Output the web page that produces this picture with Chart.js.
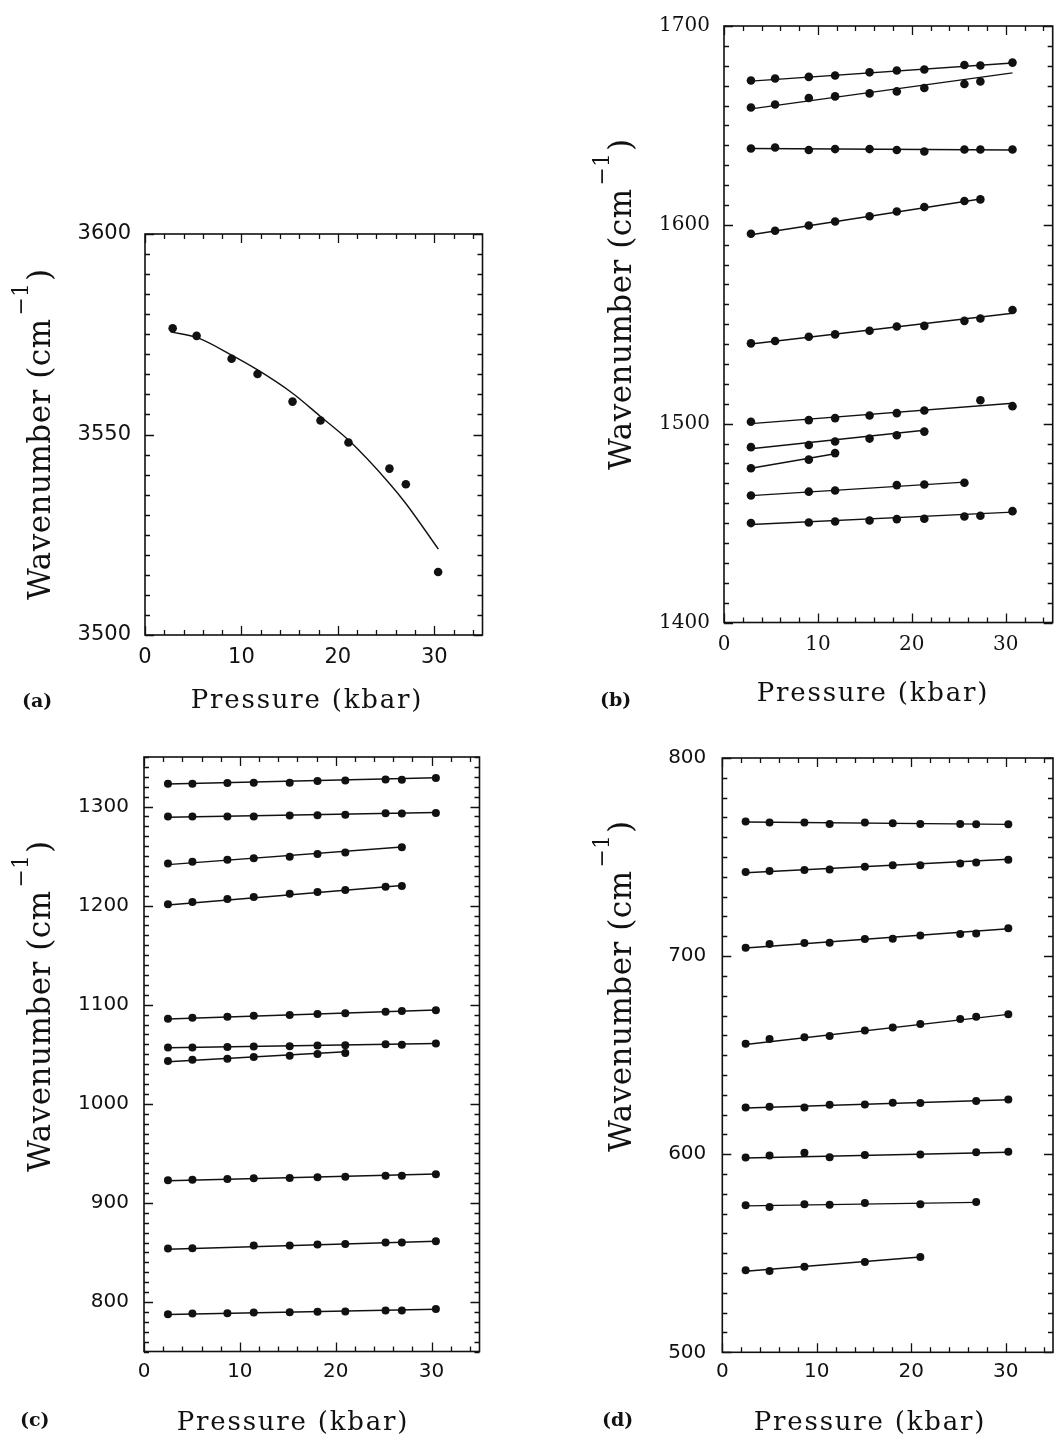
<!DOCTYPE html>
<html><head><meta charset="utf-8">
<script src="https://cdn.jsdelivr.net/npm/chart.js@4.4.0/dist/chart.umd.min.js"></script>
<style>
html,body{margin:0;padding:0;background:#fff;}
body{width:1057px;height:1436px;position:relative;overflow:hidden;}
canvas{position:absolute;}
</style></head><body>
<canvas id="ca" width="528" height="545" style="left:0;top:180px"></canvas>
<canvas id="cb" width="527" height="725" style="left:530px;top:0"></canvas>
<canvas id="cc" width="528" height="706" style="left:0;top:730px"></canvas>
<canvas id="cd" width="527" height="706" style="left:530px;top:730px"></canvas>
<script>
// ---------- tick labels ----------
const pressureTicks = [0, 10, 20, 30];
const yTicksA = [3500, 3550, 3600];
const yTicksB = [1400, 1500, 1600, 1700];
const yTicksC = [800, 900, 1000, 1100, 1200, 1300];
const yTicksD = [500, 600, 700, 800];

// ---------- Panel (a): O-H stretch ----------
const pressureA = [2.87, 5.35, 8.98, 11.67, 15.3, 18.2, 21.1, 25.35, 27.05, 30.4];
const wavenumberA = [3576.5, 3574.6, 3568.9, 3565.1, 3558.2, 3553.5, 3548.0, 3541.5, 3537.6, 3515.7];
const fitCurvePressureA = [2.66, 5.35, 8.98, 11.68, 15.3, 18.2, 21.11, 25.35, 27.05, 30.43];
const fitCurveWavenumberA = [3575.6, 3574.2, 3569.8, 3566.1, 3560.3, 3554.5, 3548.6, 3537.8, 3532.8, 3521.4];

// ---------- Panel (b): 1400-1700 cm-1 ----------
const pressureB = [2.87, 5.44, 9.03, 11.83, 15.5, 18.4, 21.33, 25.6, 27.3, 30.72];
const b1 = [1672.6, 1673.6, 1674.4, 1675.1, 1676.7, 1677.6, 1678.1, 1680.4, 1680.1, 1681.6];
const b2 = [1659.0, 1660.5, 1663.8, 1664.6, 1666.1, 1667.1, 1668.8, 1670.8, 1672.1, null];
const b3 = [1638.4, 1638.9, 1637.6, 1638.1, 1638.1, 1637.6, 1636.9, 1637.9, 1637.9, 1637.9];
const b4 = [1595.5, 1597.0, 1599.7, 1601.7, 1604.3, 1606.7, 1609.0, 1612.0, 1612.8, null];
const b5 = [1540.4, 1541.6, 1543.7, 1544.9, 1546.7, 1548.9, 1549.2, 1551.7, 1552.9, 1557.2];
const b6 = [1501.0, null, 1501.8, 1502.8, 1504.1, 1505.3, 1506.6, null, 1511.8, 1508.8];
const b7 = [1488.2, null, 1489.3, 1491.0, 1492.5, 1494.2, 1496.0, null, null, null];
const b8 = [1477.6, null, 1481.9, 1485.2, null, null, null, null, null, null];
const b9 = [1463.9, null, 1465.8, 1466.4, null, 1469.1, 1469.4, 1470.3, null, null];
const b10 = [1450.0, null, 1450.3, 1450.8, 1451.3, 1452.0, 1452.2, 1453.3, 1453.7, 1456.0];
// fitted lines: [pressure start, wavenumber start, pressure end, wavenumber end]
const fitLinesB = [
  [2.87, 1672.3, 30.72, 1681.4], [2.87, 1658.3, 30.72, 1676.4], [2.87, 1638.4, 30.72, 1637.6],
  [2.87, 1595.0, 27.3, 1613.0], [2.87, 1540.1, 30.72, 1555.5], [2.87, 1500.0, 30.72, 1510.3],
  [2.87, 1487.4, 21.33, 1496.7], [2.87, 1477.6, 11.83, 1484.9], [2.87, 1463.8, 25.6, 1470.6],
  [2.87, 1449.3, 30.72, 1455.5]
];

// ---------- Panel (c): 750-1350 cm-1 ----------
const pressureC = [2.5, 5.05, 8.7, 11.45, 15.2, 18.1, 21.0, 25.2, 26.9, 30.45];
const c1 = [1323.1, 1323.1, 1323.7, 1324.1, 1324.1, 1325.7, 1326.4, 1327.4, 1327.1, 1328.7];
const c2 = [1290.0, 1290.0, 1290.0, 1290.0, 1291.0, 1291.3, 1291.6, 1293.3, 1293.0, 1293.6];
const c3 = [1242.4, 1244.4, 1246.4, 1247.8, 1249.4, 1252.1, 1253.5, null, 1258.9, null];
const c4 = [1201.3, 1203.7, 1206.7, 1208.7, 1212.0, 1213.7, 1215.7, 1219.0, 1219.7, null];
const c5 = [1085.9, 1086.9, 1087.9, 1088.9, 1089.6, 1090.6, 1091.3, 1092.9, 1093.6, 1094.3];
const c6 = [1056.8, 1056.8, 1057.2, 1057.8, 1058.2, 1058.8, 1059.2, 1060.2, 1059.5, 1060.8];
const c7 = [1043.2, 1044.5, 1045.5, 1047.2, 1048.5, 1050.2, 1051.2, null, null, null];
const c8 = [922.8, 923.4, 924.1, 924.8, 925.1, 925.8, 926.4, 927.4, 927.4, 928.8];
const c9 = [853.9, 854.2, null, 856.9, 856.9, 857.9, 858.6, 859.9, 859.9, 861.2];
const c10 = [787.7, 788.4, 788.7, 789.4, 789.7, 790.0, 790.4, 791.4, 791.4, 793.0];
const fitLinesC = [
  [2.5, 1322.7, 30.45, 1329.1], [2.5, 1289.2, 30.45, 1294.0], [2.5, 1241.4, 26.9, 1259.2],
  [2.5, 1200.7, 26.9, 1220.3], [2.5, 1085.6, 30.45, 1094.6], [2.5, 1056.5, 30.45, 1060.8],
  [2.5, 1042.5, 21.0, 1052.5], [2.5, 922.4, 30.45, 929.1], [2.5, 853.2, 30.45, 861.2],
  [2.5, 787.4, 30.45, 792.7]
];

// ---------- Panel (d): 500-800 cm-1 ----------
const pressureD = [2.47, 5.0, 8.69, 11.36, 15.09, 18.04, 20.96, 25.18, 26.87, 30.27];
const d1 = [767.9, 767.5, 767.4, 766.7, 767.4, 767.0, 766.7, 766.7, 766.5, 766.5];
const d2 = [742.4, 742.9, 743.4, 743.7, 745.1, 745.8, 745.8, 746.8, 747.3, 748.6];
const d3 = [704.2, 706.1, 706.6, 706.7, 708.6, 708.7, 710.4, 711.1, 711.4, 714.0];
const d4 = [655.7, 658.2, 659.0, 659.7, 662.5, 664.0, 665.7, 668.3, 669.4, 670.6];
const d5 = [623.6, 624.0, 623.6, 625.0, 625.1, 626.0, 625.8, null, 626.8, 627.6];
const d6 = [598.3, 599.3, 600.7, 598.5, 599.6, null, 599.8, null, 601.0, 601.2];
const d7 = [574.2, 573.4, 574.7, 574.5, 575.4, null, 574.7, null, 575.9, null];
const d8 = [541.4, 541.1, 543.2, null, 545.6, null, 548.1, null, null, null];
const fitLinesD = [
  [2.47, 767.7, 30.27, 766.5], [2.47, 742.1, 30.27, 748.9], [2.47, 704.1, 30.27, 713.8],
  [2.47, 655.4, 30.27, 670.6], [2.47, 623.3, 30.27, 627.5], [2.47, 598.1, 30.27, 601.0],
  [2.47, 573.9, 26.87, 575.7], [2.47, 540.9, 20.96, 548.1]
];

// ---------- text ----------
const xTitleText = 'Pressure (kbar)';
const yTitleMain = 'Wavenumber (cm';
const yTitleSup = '\u22121';
const yTitleEnd = ')';
const panelLetters = ['(a)', '(b)', '(c)', '(d)'];

// ---------- helpers ----------
const INK = '#111';
function toPoints(pressure, values) {
  const out = [];
  values.forEach((v, i) => { if (v !== null) out.push({x: pressure[i], y: v}); });
  return out;
}
function scatterSet(points, r) {
  return {data: points, showLine: false, pointRadius: r, pointHoverRadius: r,
    pointBackgroundColor: INK, pointBorderColor: INK, pointBorderWidth: 0};
}
function lineSet(points, extra) {
  return Object.assign({data: points, showLine: true, pointRadius: 0, pointHoverRadius: 0,
    borderColor: INK, borderWidth: 1.4, fill: false, tension: 0}, extra || {});
}
function fitSets(lines) {
  return lines.map(l => lineSet([{x: l[0], y: l[1]}, {x: l[2], y: l[3]}]));
}
function isMultiple(v, s) { return Math.abs(v / s - Math.round(v / s)) < 1e-6; }
function setSpacing(ctx, s) { if ('letterSpacing' in ctx) ctx.letterSpacing = s; }

const paperPlugin = {
  id: 'paper',
  afterDraw(chart, args, o) {
    const ctx = chart.ctx;
    const {left, right, top, bottom} = chart.chartArea;
    const xs = chart.scales.x, ys = chart.scales.y;
    ctx.save();
    ctx.strokeStyle = INK;
    // inward tick marks on all four sides
    ctx.lineWidth = 1.3;
    ctx.beginPath();
    for (let v = xs.min; v <= xs.max + 1e-9; v += o.xMinor) {
      const px = Math.round(xs.getPixelForValue(v)) + 0.5;
      const len = isMultiple(v, o.xMajor) ? 9 : 5;
      ctx.moveTo(px, bottom); ctx.lineTo(px, bottom - len);
      ctx.moveTo(px, top); ctx.lineTo(px, top + len);
    }
    for (let v = ys.min; v <= ys.max + 1e-9; v += o.yMinor) {
      const py = Math.round(ys.getPixelForValue(v)) + 0.5;
      const len = isMultiple(v, o.yMajor) ? 9 : 5;
      ctx.moveTo(left, py); ctx.lineTo(left + len, py);
      ctx.moveTo(right, py); ctx.lineTo(right - len, py);
    }
    ctx.stroke();
    // frame
    ctx.lineWidth = 1.6;
    ctx.strokeRect(left, top, right - left, bottom - top);
    // x title
    ctx.fillStyle = INK;
    ctx.textBaseline = 'alphabetic';
    ctx.textAlign = 'center';
    ctx.font = o.titleFont;
    setSpacing(ctx, o.titleSpacing);
    ctx.fillText(xTitleText, o.xTitleX, o.xTitleY);
    // y title (rotated, with superscript)
    ctx.save();
    ctx.translate(o.yTitleBase, o.yTitleStart);
    ctx.rotate(-Math.PI / 2);
    ctx.textAlign = 'left';
    ctx.font = o.yTitleFont;
    setSpacing(ctx, o.yTitleSpacing);
    const wMain = ctx.measureText(yTitleMain).width;
    ctx.fillText(yTitleMain, 0, 0);
    ctx.font = o.supFont;
    setSpacing(ctx, '0px');
    const wSup = ctx.measureText(yTitleSup).width;
    ctx.fillText(yTitleSup, wMain + 3, -o.supRaise);
    ctx.font = o.yTitleFont;
    ctx.fillText(yTitleEnd, wMain + wSup + 5, 0);
    ctx.restore();
    // panel letter
    setSpacing(ctx, '0px');
    ctx.textAlign = 'left';
    ctx.font = 'bold 19px "DejaVu Serif"';
    ctx.fillText(o.letter, o.letterX, o.letterY);
    ctx.restore();
  }
};

function makePanel(id, p) {
  new Chart(document.getElementById(id), {
    type: 'scatter',
    data: {datasets: p.datasets},
    options: {
      responsive: false, animation: false, events: [],
      layout: {padding: {top: p.padTop, right: p.padRight, left: 0, bottom: 0}},
      plugins: {legend: {display: false}, tooltip: {enabled: false}, paper: p.paper},
      scales: {
        x: {type: 'linear', position: 'bottom', min: 0, max: 35,
          ticks: {color: INK, font: p.tickFont, padding: p.xTickPad,
            maxRotation: 0, autoSkip: false, callback: v => String(v)},
          afterBuildTicks: s => { s.ticks = pressureTicks.map(v => ({value: v})); },
          grid: {display: false, drawTicks: false}, border: {display: false},
          afterFit: s => { s.height = p.xAxisH; }},
        y: {type: 'linear', position: 'left', min: p.yMin, max: p.yMax,
          ticks: {color: INK, font: p.tickFont, padding: p.yTickPad,
            autoSkip: false, callback: v => String(v)},
          afterBuildTicks: s => { s.ticks = p.yTicks.map(v => ({value: v})); },
          grid: {display: false, drawTicks: false}, border: {display: false},
          afterFit: s => { s.width = p.yAxisW; }}
      }
    },
    plugins: [paperPlugin]
  });
}

const titleFont = '26px "DejaVu Serif"';
const yTitleFont = '31px "DejaVu Serif"';
const supFont = '22px "DejaVu Serif"';
const sansTicks = {family: '"DejaVu Sans"', size: 20};

// (a)
makePanel('ca', {
  datasets: [
    scatterSet(toPoints(pressureA, wavenumberA), 4.3),
    lineSet(fitCurvePressureA.map((x, i) => ({x, y: fitCurveWavenumberA[i]})), {cubicInterpolationMode: 'monotone'})
  ],
  yMin: 3500, yMax: 3600, yTicks: yTicksA,
  padTop: 54, padRight: 45.5, yAxisW: 145, xAxisH: 90,
  tickFont: {family: '"DejaVu Sans"', size: 21}, xTickPad: 10, yTickPad: 14,
  paper: {xMajor: 10, xMinor: 2, yMajor: 50, yMinor: 5, titleFont, titleSpacing: '1.8px',
    xTitleX: 307, xTitleY: 528, yTitleFont, yTitleSpacing: '0.5px', supFont, supRaise: 22,
    yTitleBase: 50, yTitleStart: 600 - 180, letter: panelLetters[0], letterX: 22, letterY: 527}
});

// (b)
makePanel('cb', {
  datasets: [b1, b2, b3, b4, b5, b6, b7, b8, b9, b10].map(s => scatterSet(toPoints(pressureB, s), 4.3))
    .concat(fitSets(fitLinesB)),
  yMin: 1400, yMax: 1700, yTicks: yTicksB,
  padTop: 20, padRight: 0, yAxisW: 194, xAxisH: 102.5,
  tickFont: {family: '"DejaVu Serif"', size: 20}, xTickPad: 10.5, yTickPad: 14,
  paper: {xMajor: 10, xMinor: 2, yMajor: 100, yMinor: 10, titleFont, titleSpacing: '1.8px',
    xTitleX: 343, xTitleY: 701, yTitleFont, yTitleSpacing: '0.5px', supFont, supRaise: 22,
    yTitleBase: 101, yTitleStart: 470, letter: panelLetters[1], letterX: 70, letterY: 706}
});

// (c)
makePanel('cc', {
  datasets: [c1, c2, c3, c4, c5, c6, c7, c8, c9, c10].map(s => scatterSet(toPoints(pressureC, s), 4))
    .concat(fitSets(fitLinesC)),
  yMin: 750, yMax: 1350, yTicks: yTicksC,
  padTop: 23.5, padRight: 48.5, yAxisW: 144, xAxisH: 84.5,
  tickFont: sansTicks, xTickPad: 8.5, yTickPad: 15,
  paper: {xMajor: 10, xMinor: 2, yMajor: 100, yMinor: 10, titleFont, titleSpacing: '1.8px',
    xTitleX: 293, xTitleY: 700, yTitleFont, yTitleSpacing: '0.5px', supFont, supRaise: 22,
    yTitleBase: 50, yTitleStart: 1172 - 730, letter: panelLetters[2], letterX: 20, letterY: 696}
});

// (d)
makePanel('cd', {
  datasets: [d1, d2, d3, d4, d5, d6, d7, d8].map(s => scatterSet(toPoints(pressureD, s), 4))
    .concat(fitSets(fitLinesD)),
  yMin: 500, yMax: 800, yTicks: yTicksD,
  padTop: 25, padRight: 3, yAxisW: 192.3, xAxisH: 83.7,
  tickFont: sansTicks, xTickPad: 7.7, yTickPad: 16,
  paper: {xMajor: 10, xMinor: 2, yMajor: 100, yMinor: 10, titleFont, titleSpacing: '1.8px',
    xTitleX: 340, xTitleY: 700, yTitleFont, yTitleSpacing: '0.5px', supFont, supRaise: 22,
    yTitleBase: 101, yTitleStart: 1152 - 730, letter: panelLetters[3], letterX: 72, letterY: 696}
});
</script>
</body></html>
